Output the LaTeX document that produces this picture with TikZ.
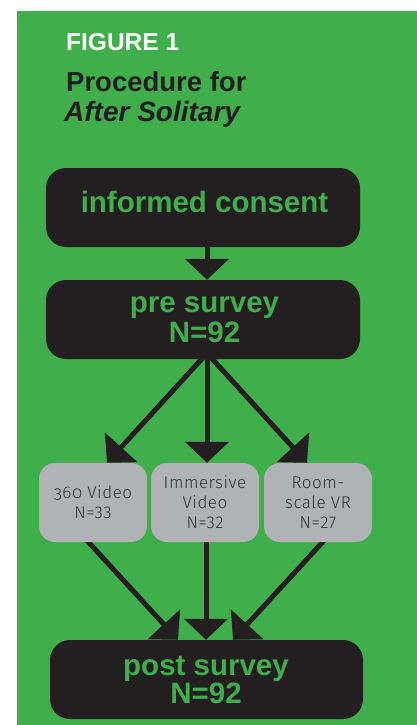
\documentclass[tikz,border=0pt]{standalone}
\usepackage{fontspec}
\setmainfont{Liberation Sans}
\usetikzlibrary{arrows.meta,backgrounds}
\IfFontExistsTF{Fira Sans Light}{\newfontfamily\grayfont{Fira Sans Light}[LetterSpace=3]}{\newfontfamily\grayfont{Liberation Sans}[LetterSpace=2]}
\definecolor{figgreen}{HTML}{40AE4A}
\definecolor{figdark}{HTML}{231F20}
\definecolor{figgray}{HTML}{B1B2B5}
\definecolor{figtext}{HTML}{333234}
\tikzset{
  darkbox/.style={fill=figdark, rounded corners=20pt, minimum width=314pt, minimum height=79pt, inner sep=0pt},
  graybox/.style={fill=figgray, rounded corners=16pt, minimum width=108pt, minimum height=79pt, inner sep=0pt, align=center, text=figtext, font=\grayfont\fontsize{17}{20}\selectfont},
  boxtext/.style={text=figgreen, font=\bfseries\fontsize{29.5}{30}\selectfont, inner sep=0pt, anchor=base},
  titletext/.style={inner sep=0pt, anchor=base west},
  flow/.style={draw=figdark, line width=5pt, -{Triangle[width=43pt,length=21pt]}}
}
\begin{document}
\begin{tikzpicture}[x=1pt,y=-1pt]
\useasboundingbox (0,0) rectangle (417,725);
% title
\node[titletext, text=white, font=\bfseries\fontsize{24.5}{25}\selectfont] (fig) at (66,51) {FIGURE 1};
\node[titletext, text=figdark, font=\bfseries\fontsize{27.5}{28}\selectfont] (proc) at (66,92) {Procedure for};
\node[titletext, text=figdark, font=\bfseries\itshape\fontsize{28}{28}\selectfont] (after) at (64,121) {After Solitary};
% boxes
\node[darkbox] (ic) at (203,207.5) {};
\node[boxtext] (ict) at (204.5,212) {informed consent};
\node[darkbox] (pre) at (203,319.5) {};
\node[boxtext] (pret1) at (204.5,312) {pre survey};
\node[boxtext] (pret2) at (204.5,342) {N=92};
\node[graybox] (g1) at (93,502.5) {{\addfontfeatures{Numbers=OldStyle}360} Video\\N=33};
\node[graybox] (g2) at (205,502.5) {Immersive\\Video\\N=32};
\node[graybox] (g3) at (318,502.5) {Room-\\scale VR\\N=27};
\node[darkbox, minimum width=313pt] (post) at (206.5,679.5) {};
\node[boxtext] (postt1) at (206,675) {post survey};
\node[boxtext] (postt2) at (206,703) {N=92};
\begin{scope}[on background layer]
\fill[white] (0,0) rectangle (417,725);
\fill[figgreen] (17,11) rectangle (417,725);
\draw[flow] ([xshift=4pt]ic.south) -- ([xshift=4pt]pre.north);
\draw[flow] ([xshift=4pt,yshift=6pt]pre.south) -- ([xshift=14pt]g1.north);
\draw[flow] ([xshift=4pt,yshift=6pt]pre.south) -- ([xshift=2pt]g2.north);
\draw[flow] ([xshift=4pt,yshift=6pt]pre.south) -- ([xshift=-11pt]g3.north);
\draw[flow] ([xshift=-10pt,yshift=6pt]g1.south) -- ([xshift=-28.5pt]post.north);
\draw[flow] ([xshift=1pt,yshift=6pt]g2.south) -- ([xshift=-0.5pt]post.north);
\draw[flow] ([xshift=10pt,yshift=6pt]g3.south) -- ([xshift=26.5pt]post.north);
\end{scope}
\end{tikzpicture}
\end{document}
